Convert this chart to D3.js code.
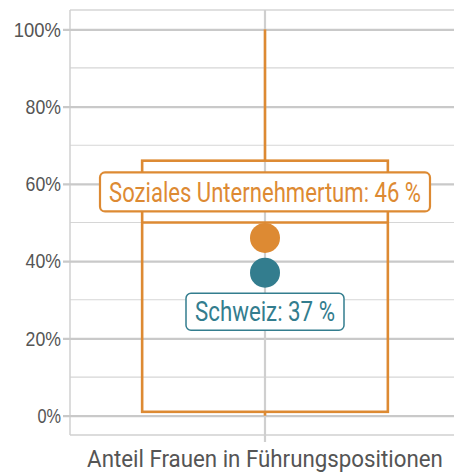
<!DOCTYPE html>
<html>
<head>
<meta charset="utf-8">
<script src="https://cdn.jsdelivr.net/npm/d3@7"></script>
<style>
  body { margin: 0; background: #fff; }
  svg { display: block; font-family: Roboto, "Liberation Sans", sans-serif; }
</style>
</head>
<body>
<svg id="chart" width="454" height="473"></svg>
<script>
// data
const categories = ['Anteil Frauen in Führungspositionen'];
const majorTicks = [0, 20, 40, 60, 80, 100];
const minorTicks = [10, 30, 50, 70, 90];
const boxKeys = ['min', 'q1', 'median', 'q3', 'max'];
const boxValues = [0, 1, 50, 66, 100];
const pointNames = ['Soziales Unternehmertum', 'Schweiz'];
const pointValues = [46, 37];
const pointColors = ['#dd8a33', '#337d8e'];

const margin = { top: 10, right: -6, bottom: 38, left: 70 };
const W = 454, H = 473;
const svg = d3.select('#chart');
const box = {};
boxKeys.forEach((k, i) => { box[k] = boxValues[i]; });

const y = d3.scaleLinear().domain([-5, 105]).range([H - margin.bottom, margin.top]);
const x = d3.scalePoint().domain(categories).range([margin.left, W - margin.right]).padding(0.5);
const plotW = (W - margin.right) - margin.left;
const boxW = plotW * 0.63;
const cx = x(categories[0]);

// squeeze a text horizontally to a target width (condensed look)
const squeeze = (sel, targetW, anchorX, anchorY) => {
  sel.each(function () {
    const w = this.getComputedTextLength();
    const k = Math.min(1, targetW / w);
    d3.select(this).attr('transform',
      `translate(${anchorX},${anchorY}) scale(${k},1) translate(${-anchorX},${-anchorY})`);
  });
};

// minor grid
svg.append('g').selectAll('line').data(minorTicks).enter().append('line')
  .attr('x1', margin.left).attr('x2', W)
  .attr('y1', d => y(d)).attr('y2', d => y(d))
  .style('stroke', '#d6d6d6').style('stroke-width', 1.2);

// frame lines (top, left, bottom)
svg.append('line').attr('x1', margin.left).attr('x2', W).attr('y1', y(105)).attr('y2', y(105))
  .style('stroke', '#d6d6d6').style('stroke-width', 1.5);
svg.append('line').attr('x1', margin.left).attr('x2', margin.left).attr('y1', y(105)).attr('y2', y(-5))
  .style('stroke', '#d0d0d0').style('stroke-width', 1.5);
svg.append('line').attr('x1', margin.left).attr('x2', W).attr('y1', y(-5)).attr('y2', y(-5))
  .style('stroke', '#d0d0d0').style('stroke-width', 1.5);

// y axis with major grid
const yAxis = d3.axisLeft(y).tickValues(majorTicks).tickFormat(d => d + '%')
  .tickSize(-(W - margin.left + 7)).tickPadding(0);
const gY = svg.append('g').attr('transform', `translate(${margin.left - 7},0)`).call(yAxis);
gY.select('.domain').remove();
gY.selectAll('.tick line').style('stroke', '#c9c9c9').style('stroke-width', 2.2);
gY.selectAll('.tick text').attr('x', -2)
  .style('font-size', '21px').style('fill', '#555')
  .each(function (d) {
    const w = this.getComputedTextLength();
    const k = ((String(d).length + 1) * 11.8) / w;
    d3.select(this).attr('transform', `translate(-2,0) scale(${Math.min(1, k)},1) translate(2,0)`);
  });

// vertical center grid + x tick
svg.append('line').attr('x1', cx).attr('x2', cx).attr('y1', y(105)).attr('y2', y(-5) + 7)
  .style('stroke', '#cfcfcf').style('stroke-width', 2.2);

// x label
const xl = svg.append('text').attr('x', cx).attr('y', H - 6).attr('text-anchor', 'middle')
  .style('font-size', '24px').style('fill', '#555')
  .text(categories[0]);
squeeze(xl, 356, cx, H - 6);

// box plot
const orange = pointColors[0];
const g = svg.append('g').style('stroke', orange).style('stroke-width', 2.6).style('fill', 'none');
g.append('line').attr('x1', cx).attr('x2', cx).attr('y1', y(box.max)).attr('y2', y(box.q3));
g.append('line').attr('x1', cx).attr('x2', cx).attr('y1', y(box.q1)).attr('y2', y(box.min));
g.append('rect').attr('x', cx - boxW / 2).attr('width', boxW)
  .attr('y', y(box.q3)).attr('height', y(box.q1) - y(box.q3));
g.append('line').attr('x1', cx - boxW / 2).attr('x2', cx + boxW / 2)
  .attr('y1', y(box.median)).attr('y2', y(box.median));

// points
svg.append('g').selectAll('circle').data(pointValues).enter().append('circle')
  .attr('cx', cx).attr('cy', d => y(d)).attr('r', 15)
  .style('fill', (d, i) => pointColors[i]);

// labels
const labelOffsets = [-46, 39];
const labelWidths = [312, 140];
pointValues.forEach((v, i) => {
  const ly = y(v) + labelOffsets[i];
  const w = labelWidths[i] + 18, h = i === 0 ? 39 : 37;
  svg.append('rect').attr('x', cx - w / 2).attr('y', ly - h / 2).attr('width', w).attr('height', h)
    .attr('rx', 5).style('fill', '#fff').style('stroke', pointColors[i])
    .style('stroke-width', i === 0 ? 2.2 : 1.5);
  const t = svg.append('text').attr('x', cx).attr('y', ly).attr('text-anchor', 'middle').attr('dy', '0.36em')
    .style('font-size', '27px').style('fill', pointColors[i])
    .text(`${pointNames[i]}: ${v} %`);
  squeeze(t, labelWidths[i], cx, ly);
});
</script>
</body>
</html>
